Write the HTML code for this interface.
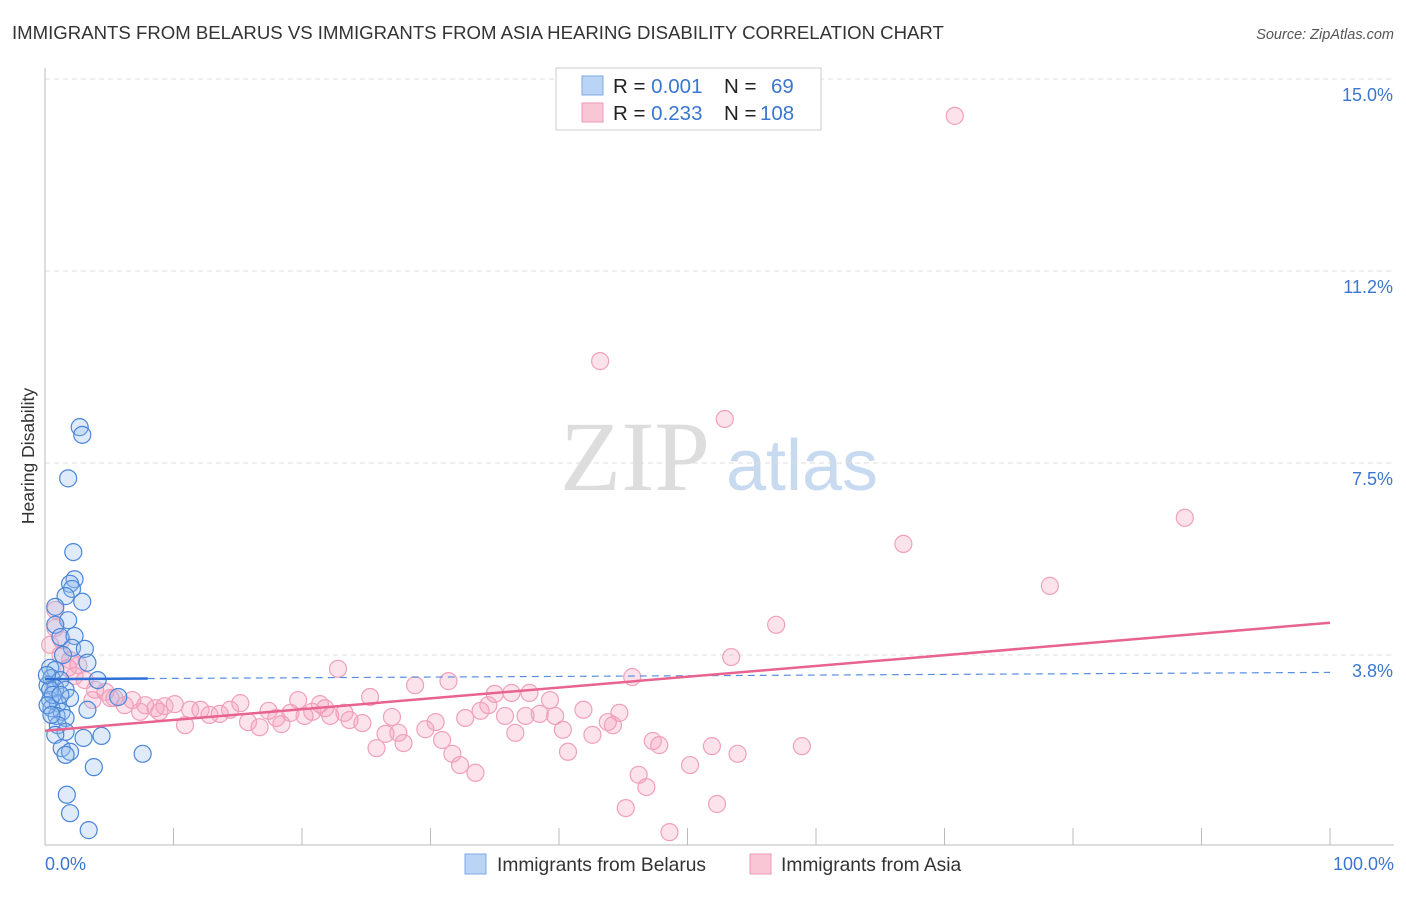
<!DOCTYPE html>
<html><head><meta charset="utf-8"><style>
body{margin:0;background:#fff;width:1406px;height:892px;overflow:hidden;font-family:"Liberation Sans",sans-serif}
</style></head><body>
<svg id="chart" width="1406" height="892" xmlns="http://www.w3.org/2000/svg">
<text x="12" y="39" font-size="18.6" fill="#333">IMMIGRANTS FROM BELARUS VS IMMIGRANTS FROM ASIA HEARING DISABILITY CORRELATION CHART</text>
<text x="1394" y="39" font-size="14.5" fill="#555" font-style="italic" text-anchor="end">Source: ZipAtlas.com</text>
<text transform="translate(34,456) rotate(-90)" font-size="17.5" fill="#333" text-anchor="middle">Hearing Disability</text>
<g>
<text x="635" y="490" font-size="100" fill="#ddd" font-family="Liberation Serif,serif" text-anchor="middle">ZIP</text>
<text x="802" y="490" font-size="72" fill="#c8daf0" text-anchor="middle">atlas</text>
</g>
<g id="grid"></g><g id="pts"></g><g id="lines"></g>
<g>
<rect x="556" y="68" width="265" height="62" fill="#fff" stroke="#ccc"/>
<rect x="582" y="76" width="21" height="19" fill="#b9d4f5" stroke="#7fa8e0"/>
<rect x="582" y="103" width="21" height="19" fill="#f9c6d6" stroke="#ef9ab6"/>
<text x="613" y="93" font-size="20.5" fill="#222">R = <tspan fill="#3b76d0">0.001</tspan><tspan x="724">N = </tspan><tspan x="771" fill="#3b76d0">69</tspan></text>
<text x="613" y="120" font-size="20.5" fill="#222">R = <tspan fill="#3b76d0">0.233</tspan><tspan x="724">N = </tspan><tspan x="760" fill="#3b76d0">108</tspan></text>
</g>
<text x="45" y="870" font-size="18" fill="#3b76d0">0.0%</text>
<text x="1394" y="870" font-size="18" fill="#3b76d0" text-anchor="end">100.0%</text>
<g>
<rect x="465" y="854" width="21" height="20" fill="#b9d4f5" stroke="#7fa8e0"/>
<text x="497" y="871" font-size="19.2" fill="#333">Immigrants from Belarus</text>
<rect x="750" y="854" width="21" height="20" fill="#f9c6d6" stroke="#ef9ab6"/>
<text x="781" y="871" font-size="19.2" fill="#333">Immigrants from Asia</text>
</g>
</svg>
<script>
const yTicks=[3.75,7.5,11.25,15];
const yTickLabels=["3.8%","7.5%","11.2%","15.0%"];
const belarusX=[2.7,2.9,1.8,2.2,2.3,1.95,2.1,1.6,2.9,0.8,1.8,0.8,1.2,2.3,2.1,3.1,1.4,3.3,0.4,0.8,0.5,1.2,4.1,0.2,0.8,1.6,1.95,0.4,1.0,5.7,0.5,1.3,3.3,0.9,1.6,1.0,1.6,0.8,3.0,4.4,1.3,1.95,1.6,7.6,3.8,1.7,1.95,3.4,0.4,0.6,0.2,0.15,1.2,0.5];
const belarusY=[8.2,8.05,7.2,5.76,5.23,5.14,5.04,4.9,4.79,4.69,4.43,4.34,4.1,4.12,3.89,3.87,3.75,3.6,3.5,3.46,3.3,3.26,3.26,3.16,3.1,3.07,2.91,2.87,2.81,2.93,2.71,2.64,2.68,2.56,2.52,2.38,2.25,2.19,2.13,2.17,1.93,1.86,1.8,1.82,1.56,1.02,0.66,0.33,3.07,2.97,2.77,3.36,2.97,2.58];
const asiaX=[70.8,43.2,52.9,88.7,66.8,78.2,56.9,53.4,45.7,22.8,0.8,0.8,1.3,1.2,1.95,2.6,2.3,3.1,3.9,4.7,5.4,6.2,6.8,7.8,8.6,9.3,10.1,10.9,11.3,12.1,12.8,13.6,14.4,15.2,15.8,16.7,17.4,18.0,18.4,19.1,19.7,20.2,20.8,21.4,21.8,22.2,23.3,23.7,24.7,25.3,25.8,26.5,27.0,27.5,27.9,28.8,29.6,30.4,30.9,31.4,31.7,32.3,32.7,33.5,33.9,34.5,35.0,35.8,36.3,36.6,37.4,37.7,38.5,39.3,39.7,40.3,40.7,41.9,42.6,43.8,44.2,44.7,45.2,46.2,46.8,47.3,47.8,48.6,50.2,51.9,52.3,53.9,58.9,0.4,1.8,3.7,7.4,8.9,5.1];
const asiaY=[14.28,9.49,8.36,6.43,5.92,5.1,4.34,3.71,3.32,3.48,4.63,4.28,4.04,3.75,3.65,3.55,3.34,3.26,3.07,3.03,2.91,2.77,2.87,2.77,2.71,2.75,2.79,2.38,2.68,2.68,2.58,2.6,2.68,2.81,2.44,2.34,2.66,2.52,2.4,2.62,2.87,2.56,2.64,2.79,2.71,2.56,2.62,2.48,2.42,2.93,1.93,2.21,2.54,2.23,2.03,3.16,2.3,2.44,2.09,3.24,1.82,1.6,2.52,1.45,2.66,2.77,2.99,2.56,3.01,2.23,2.56,3.01,2.6,2.87,2.56,2.29,1.86,2.68,2.19,2.44,2.38,2.62,0.76,1.41,1.17,2.07,1.99,0.29,1.6,1.97,0.84,1.82,1.97,3.95,3.5,2.87,2.64,2.64,2.91];
const belarusTrend=[3.28,3.41];
const asiaTrend=[2.27,4.38];
const NS="http://www.w3.org/2000/svg";
const X=v=>45+v*12.85, Y=v=>847-v*51.2;
function mk(t,a,p){const e=document.createElementNS(NS,t);for(const k in a)e.setAttribute(k,a[k]);p.appendChild(e);return e;}
const grid=document.getElementById('grid');
yTicks.forEach((t,i)=>{
 const l=mk('line',{x1:45,x2:1394,y1:Y(t),y2:Y(t),stroke:'#ddd','stroke-dasharray':'5,4'},grid);
 
 
 const tx=mk('text',{x:1393,y:Y(t)+22,'font-size':18,fill:'#3b76d0','text-anchor':'end'},grid);
 tx.textContent=yTickLabels[i];
 
 
});
const ax=mk('line',{x1:45,x2:1394,y1:845,y2:845,stroke:'#bbb'},grid);


const ay=mk('line',{x1:45,x2:45,y1:68,y2:845,stroke:'#bbb'},grid);


for(let i=0;i<=10;i++){
 const t=mk('line',{x1:X(i*10),x2:X(i*10),y1:828,y2:845,stroke:'#bbb'},grid);
 
 
}
const pts=document.getElementById('pts');
asiaX.forEach((x,i)=>{
 const c=mk('circle',{cx:X(x),cy:Y(asiaY[i]),r:8.5,fill:'rgba(244,160,190,0.3)',stroke:'#f0a0bc','stroke-width':1.2},pts);
 
 
});
belarusX.forEach((x,i)=>{
 const c=mk('circle',{cx:X(x),cy:Y(belarusY[i]),r:8.5,fill:'rgba(150,190,240,0.3)',stroke:'#4a86d8','stroke-width':1.2},pts);
 
 
});
const lines=document.getElementById('lines');
const bx=8;const bmid=belarusTrend[0]+(belarusTrend[1]-belarusTrend[0])*bx/100;
const b1=mk('line',{x1:X(0),y1:Y(belarusTrend[0]),x2:X(bx),y2:Y(bmid),stroke:'#2f6fd6','stroke-width':2.5},lines);


const b2=mk('line',{x1:X(bx),y1:Y(bmid),x2:X(100),y2:Y(belarusTrend[1]),stroke:'#5a8fe0','stroke-width':1.2,'stroke-dasharray':'7,5'},lines);


const a1=mk('line',{x1:X(0),y1:Y(asiaTrend[0]),x2:X(100),y2:Y(asiaTrend[1]),stroke:'#e8638f','stroke-width':2.5},lines);


</script>
</body></html>
